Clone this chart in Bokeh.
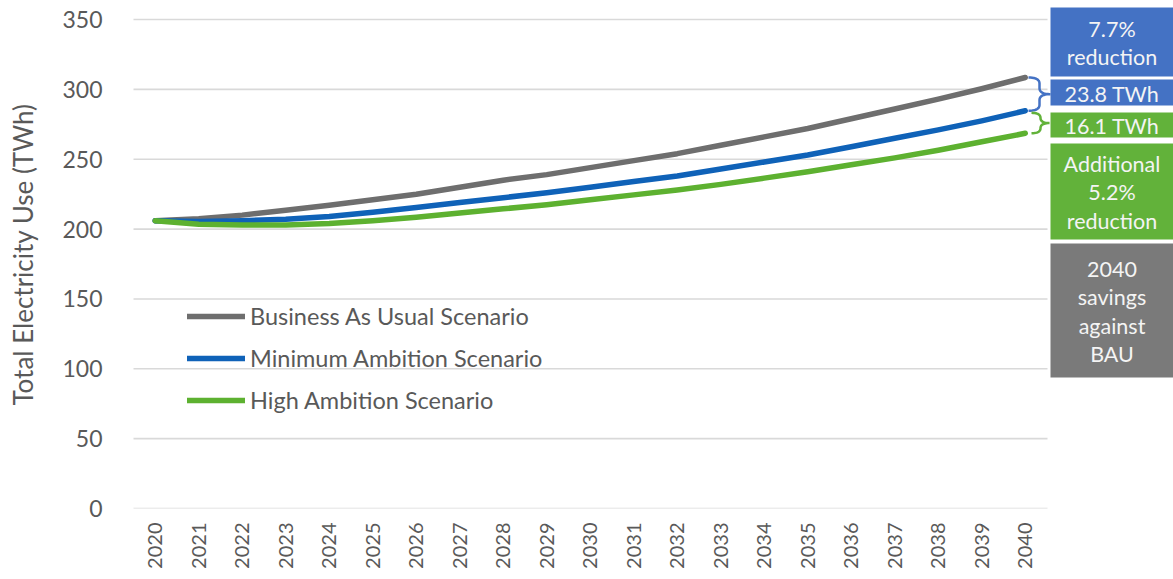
import numpy as np
from math import pi
from bokeh.plotting import figure
from bokeh.models import Range1d, FixedTicker
from bokeh.core.properties import value
from bokeh.embed import file_html
from bokeh.resources import INLINE

# Annual electricity use (TWh) by scenario
years = list(range(2020, 2041))
bau = [206, 207.5, 210, 213.5, 217, 221, 225, 230, 235, 239, 244,
       249, 254, 260, 266, 272, 279, 286, 293, 300.5, 308.5]
min_ambition = [206, 205.5, 206, 207, 209, 212, 215.5, 219, 222.5, 226, 230,
                234, 238, 243, 248, 253, 259, 265, 271, 277.5, 284.7]
high_ambition = [206, 203.5, 203, 203, 204, 206, 208.5, 211.5, 214.5, 217.5, 221,
                 224.5, 228, 232, 236.5, 241, 246, 251, 256.5, 262.5, 268.6]
series_names = ["Business As Usual Scenario", "Minimum Ambition Scenario",
                "High Ambition Scenario"]
y_ticks = [0, 50, 100, 150, 200, 250, 300, 350]

# savings in the final year
saving_min = bau[-1] - min_ambition[-1]
saving_high = min_ambition[-1] - high_ambition[-1]
pct_min = saving_min / bau[-1] * 100
pct_high = saving_high / bau[-1] * 100

GRAY, BLUE, GREEN = "#6E6E6E", "#0F62B8", "#5DB130"
BOX_BLUE, BOX_GREEN, BOX_GRAY = "#4472C4", "#62B23A", "#7A7A7A"
TEXT = "#595959"
FONT = "Lato"

# canvas geometry
W, H = 1173, 579
LEFT, BOTTOM = 133, 71
PX_YEAR = 43.5
PX_TWH = 1.397
X0 = 2019.5
X1 = X0 + (W - LEFT) / PX_YEAR
Y1 = (H - BOTTOM) / PX_TWH


def at_x(px):
    return X0 + (px - LEFT) / PX_YEAR


def at_y(py):
    return (H - BOTTOM - py) / PX_TWH


p = figure(width=W, height=H, x_range=Range1d(X0, X1), y_range=Range1d(0, Y1),
           output_backend="svg", toolbar_location=None,
           min_border_left=LEFT, min_border_right=0, min_border_top=0,
           min_border_bottom=BOTTOM)
p.outline_line_color = None
p.xgrid.visible = False
p.ygrid.visible = False

# horizontal gridlines limited to the year span
n = len(y_ticks)
p.segment(x0=[at_x(130)] * n, x1=[at_x(1047)] * n, y0=y_ticks, y1=y_ticks,
          line_color="#D9D9D9", line_width=1.6)

# scenario lines
for vals, col, name in [(bau, GRAY, series_names[0]),
                        (min_ambition, BLUE, series_names[1]),
                        (high_ambition, GREEN, series_names[2])]:
    p.line(years, vals, line_color=col, line_width=5.5, line_cap="round",
           line_join="round", legend_label=name)


def brace(y_top, y_bot, px_start, px_depth):
    """Curly brace opening left, from y_top down to y_bot (data units)."""
    h = (y_top - y_bot) * PX_TWH
    m = h / 2
    d = px_depth
    half = d / 2

    def quad(p0, c, p1, k=12):
        t = np.linspace(0, 1, k)[:, None]
        a, b, e = np.array(p0), np.array(c), np.array(p1)
        return (1 - t) ** 2 * a + 2 * (1 - t) * t * b + t ** 2 * e

    r = min(6, m / 2)
    pts = np.vstack([
        quad((0, 0), (half, 0), (half, r)),
        quad((half, m - r), (half, m), (d, m)),
        quad((d, m), (half, m), (half, m + r)),
        quad((half, h - r), (half, h), (0, h)),
    ])
    xs = [at_x(px_start + dx) for dx in pts[:, 0]]
    ys = [y_top - dy / PX_TWH for dy in pts[:, 1]]
    return xs, ys


bx, by = brace(bau[-1], min_ambition[-1], 1028, 22)
p.line(bx, by, line_color=BOX_BLUE, line_width=2.5)
gx, gy = brace(min_ambition[-1] - 1.5, high_ambition[-1], 1031, 18)
p.line(gx, gy, line_color=BOX_GREEN, line_width=2.5)

# side panel boxes (canvas pixel extents)
box_px = [(7, 76), (79, 105), (112, 137), (143, 239), (243, 377)]
box_cols = [BOX_BLUE, BOX_BLUE, BOX_GREEN, BOX_GREEN, BOX_GRAY]
box_texts = [f"{pct_min:.1f}%\nreduction",
             f"{saving_min:.1f} TWh",
             f"{saving_high:.1f} TWh",
             f"Additional\n{pct_high:.1f}%\nreduction",
             f"{years[-1]}\nsavings\nagainst\nBAU"]
p.quad(left=[at_x(1050)] * 5, right=[at_x(1173)] * 5,
       top=[at_y(a) for a, _ in box_px], bottom=[at_y(b) for _, b in box_px],
       fill_color=box_cols, line_color=None)
p.text(x=[at_x(1111.5)] * 5, y=[at_y((a + b) / 2 + 1) for a, b in box_px],
       text=box_texts, text_align="center", text_baseline="middle",
       text_color="#F4F4F4", text_font=value(FONT), text_font_size="21.5px",
       text_line_height=1.1)

# axes
p.xaxis.ticker = FixedTicker(ticks=years)
p.xaxis.major_label_orientation = pi / 2
p.xaxis.axis_line_color = None
p.xaxis.major_tick_line_color = None
p.xaxis.minor_tick_line_color = None
p.xaxis.major_label_standoff = 8
p.xaxis.major_label_text_font = FONT
p.xaxis.major_label_text_font_size = "20px"
p.xaxis.major_label_text_color = TEXT

p.yaxis.ticker = FixedTicker(ticks=y_ticks)
p.yaxis.axis_line_color = None
p.yaxis.major_tick_line_color = None
p.yaxis.minor_tick_line_color = None
p.yaxis.major_label_standoff = 25
p.yaxis.major_label_text_font = FONT
p.yaxis.major_label_text_font_size = "23px"
p.yaxis.major_label_text_color = TEXT
p.yaxis.axis_label = "Total Electricity Use (TWh)"
p.yaxis.axis_label_text_font = FONT
p.yaxis.axis_label_text_font_style = "normal"
p.yaxis.axis_label_text_font_size = "26px"
p.yaxis.axis_label_text_color = TEXT
p.yaxis.axis_label_standoff = 20

# legend
lg = p.legend[0]
lg.location = (54, 94)
lg.background_fill_alpha = 0
lg.border_line_alpha = 0
lg.padding = 0
lg.margin = 0
lg.spacing = 14
lg.glyph_width = 58
lg.glyph_height = 28
lg.label_height = 28
lg.label_standoff = 5
lg.label_text_font = FONT
lg.label_text_font_size = "23.5px"
lg.label_text_color = TEXT

open("out.html", "w").write(file_html(p, INLINE))
